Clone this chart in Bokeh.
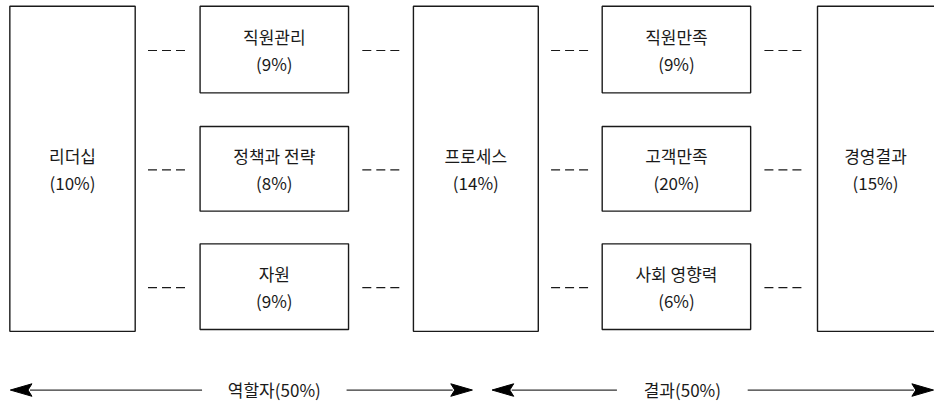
from bokeh.plotting import figure
from bokeh.models import Range1d
from bokeh.core.properties import value
from bokeh.embed import file_html
from bokeh.resources import INLINE

# ---- data ----
big_labels = ["리더십", "프로세스", "경영결과"]
big_pcts = [10, 14, 15]
enabler_labels = ["직원관리", "정책과 전략", "자원"]
enabler_pcts = [9, 8, 9]
result_labels = ["직원만족", "고객만족", "사회 영향력"]
result_pcts = [9, 20, 6]
group_labels = ["역할자", "결과"]
group_pcts = [50, 50]

# ---- layout (reference pixel coordinates, y downwards) ----
W, H = 934, 403
FONT = value("Noto Sans CJK KR")
INK = "#1a1a1a"

p = figure(width=W, height=H, output_backend="svg", toolbar_location=None,
           x_range=Range1d(0, 950), y_range=Range1d(419, 0),
           min_border=0)
p.axis.visible = False
p.grid.visible = False
p.outline_line_color = None
p.background_fill_color = "white"
p.border_fill_color = "white"

big_x = [(9.5, 137), (420, 547), (831, 955)]
big_y = (6, 344)
small_cols = [(203, 354), (612, 763)]
small_rows = [(6, 96), (131, 219), (253, 342)]

# big boxes
p.quad(left=[a for a, b in big_x], right=[b for a, b in big_x],
       top=[big_y[0]] * 3, bottom=[big_y[1]] * 3,
       fill_color="white", line_color=INK, line_width=1.4)

# small boxes
sl, sr, st, sb = [], [], [], []
for (a, b) in small_cols:
    for (t, u) in small_rows:
        sl.append(a); sr.append(b); st.append(t); sb.append(u)
p.quad(left=sl, right=sr, top=st, bottom=sb,
       fill_color="white", line_color=INK, line_width=1.4)

# texts
tx, ty, tt = [], [], []
def add_label(cx, cy, name, pct):
    tx.extend([cx, cx]); ty.extend([cy - 13.5, cy + 14])
    tt.extend([name, f"({pct}%)"])

bc = (big_y[0] + big_y[1]) / 2
for (a, b), name, pct in zip(big_x[:2], big_labels[:2], big_pcts[:2]):
    add_label((a + b) / 2, bc, name, pct)
add_label(890, bc, big_labels[2], big_pcts[2])
for (a, b), names, pcts in zip(small_cols, [enabler_labels, result_labels],
                               [enabler_pcts, result_pcts]):
    for (t, u), name, pct in zip(small_rows, names, pcts):
        add_label((a + b) / 2, (t + u) / 2, name, pct)

p.text(x=tx, y=ty, text=tt, text_font=FONT, text_font_size="17px",
       text_align="center", text_baseline="middle", text_color=INK)

# dashed connectors
gaps = [(150, 190), (368, 406), (560, 598), (777, 815)]
dx0, dx1, dy = [], [], []
for (a, b) in gaps:
    for (t, u) in small_rows:
        dx0.append(a); dx1.append(b); dy.append((t + u) / 2 + 1)
p.segment(x0=dx0, y0=dy, x1=dx1, y1=dy, line_color=INK, line_width=1.2,
          line_dash="9 5")

# bottom arrows
AY = 405
spans = [(10, 480), (500, 949)]
text_gaps = [(205, 352), (627, 760)]
head_len, head_half = 22, 6.5
lx0, lx1, ly = [], [], []
hx, hy = [], []
gx, gy, gt = [], [], []
for (a, b), (g0, g1), name, pct in zip(spans, text_gaps, group_labels, group_pcts):
    lx0 += [a + head_len - 2, g1]
    lx1 += [g0, b - head_len + 2]
    ly += [AY, AY]
    hx.append([a, a + head_len, a + head_len - 4, a + head_len])
    hy.append([AY, AY - head_half, AY, AY + head_half])
    hx.append([b, b - head_len, b - head_len + 4, b - head_len])
    hy.append([AY, AY - head_half, AY, AY + head_half])
    gx.append((g0 + g1) / 2); gy.append(AY - 1); gt.append(f"{name}({pct}%)")
p.segment(x0=lx0, y0=ly, x1=lx1, y1=ly, line_color="#333333", line_width=1.2)
p.patches(xs=hx, ys=hy, fill_color="black", line_color="black", line_width=1)
p.text(x=gx, y=gy, text=gt, text_font=FONT, text_font_size="17px",
       text_align="center", text_baseline="middle", text_color=INK)

open("out.html", "w").write(file_html(p, INLINE))
